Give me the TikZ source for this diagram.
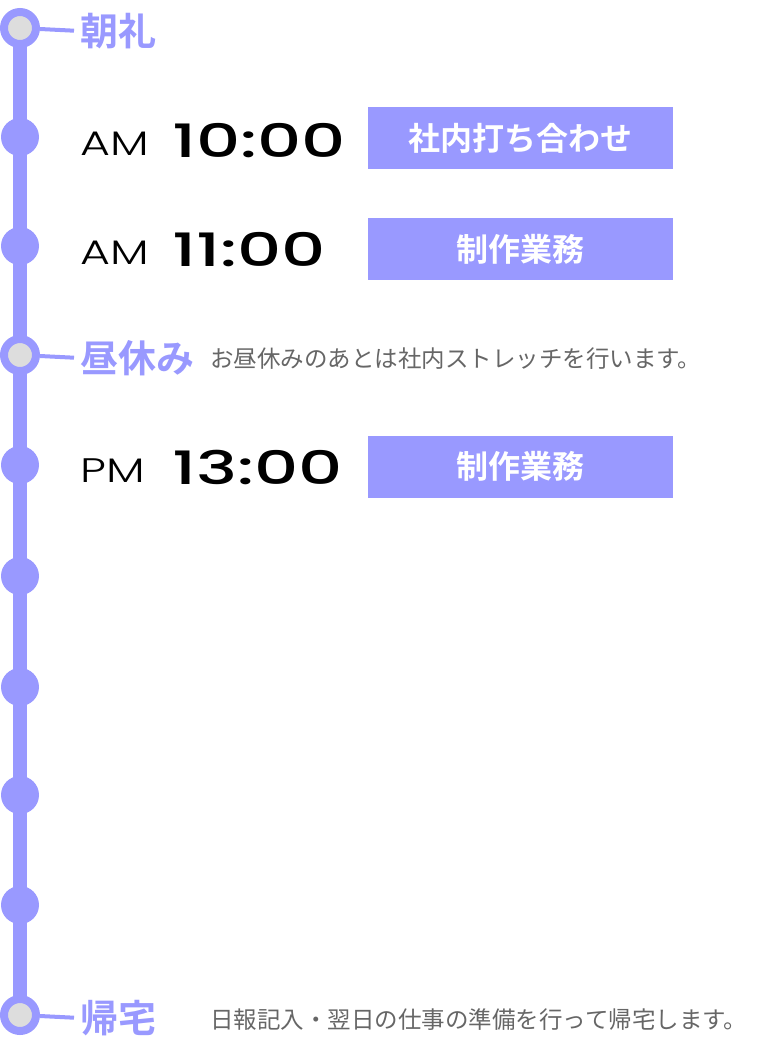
\documentclass[tikz,border=0pt]{standalone}
\usepackage{fontspec}
\setmainfont{Poppins}
\newfontfamily\cjk{Noto Sans CJK JP}
\newfontfamily\cjkb{Noto Sans CJK JP Bold}
\newfontfamily\amfont{Poppins Light}
\newfontfamily\numfont{Poppins Medium}
\usetikzlibrary{positioning}
\definecolor{tlblue}{HTML}{9999FF}
\definecolor{tlgrey}{HTML}{DDDDDD}
\definecolor{txtgrey}{HTML}{666666}
\newcommand{\wideam}[1]{\scalebox{1.35}[1]{#1}}
\newcommand{\wideclock}[1]{\scalebox{1.5}[1]{#1}}
\begin{document}
\begin{tikzpicture}[x=1pt,y=-1pt]
\tikzset{
  dot/.style={circle, fill=tlblue, minimum size=38pt, inner sep=0pt},
  ring/.style={circle, fill=tlgrey, draw=tlblue, line width=8pt, minimum size=32pt, inner sep=0pt},
  head/.style={anchor=west, text=tlblue, font=\cjkb\fontsize{38}{38}\selectfont, inner sep=0pt},
  note/.style={anchor=west, text=txtgrey, font=\cjk\fontsize{23.5}{23.5}\selectfont, inner sep=0pt},
  ampm/.style={anchor=base west, font=\amfont\fontsize{34}{34}\selectfont, inner sep=0pt},
  clock/.style={anchor=base west, font=\numfont\fontsize{46}{46}\selectfont, inner sep=0pt},
  task/.style={fill=tlblue, text=white, font=\cjkb\fontsize{32}{32}\selectfont, minimum width=305pt, minimum height=62pt, inner sep=0pt},
  tick/.style={draw=tlblue, line width=4pt, shorten >=6pt}
}
\useasboundingbox (0,0) rectangle (759,1044);
\draw[tlblue, line width=14pt] (20,28) -- (20,1015);
% stops on the line
\foreach \y/\n in {137/s1, 246/s2, 465/s3, 576/s4, 687/s5, 795/s6, 905/s7}
  \node[dot] (\n) at (20,\y) {};
\node[ring] (start) at (20,28) {};
\node[ring] (lunch) at (20,355) {};
\node[ring] (home) at (20,1015) {};
% headings
\node[head] (h1) at (80,31) {朝礼};
\node[head] (h2) at (80,358) {昼休み};
\node[head] (h3) at (80,1018) {帰宅};
\draw[tick] (start) -- (h1.west);
\draw[tick] (lunch) -- (h2.west);
\draw[tick] (home) -- (h3.west);
\node[note] (n1) at (210,359) {お昼休みのあとは社内ストレッチを行います。};
\node[note] (n2) at (210,1020) {日報記入・翌日の仕事の準備を行って帰宅します。};
% schedule
\node[ampm] (a1) at (80,155) {\wideam{AM}};
\node[clock] (c1) at (172,157) {\wideclock{10:00}};
\node[task] (t1) at (520.5,138) {社内打ち合わせ};
\node[ampm] (a2) at (80,264) {\wideam{AM}};
\node[clock] (c2) at (172,266) {\wideclock{11:00}};
\node[task] (t2) at (520.5,249) {制作業務};
\node[ampm] (a3) at (80,482) {\wideam{PM}};
\node[clock] (c3) at (172,484) {\wideclock{13:00}};
\node[task] (t3) at (520.5,466.5) {制作業務};
\end{tikzpicture}
\end{document}
